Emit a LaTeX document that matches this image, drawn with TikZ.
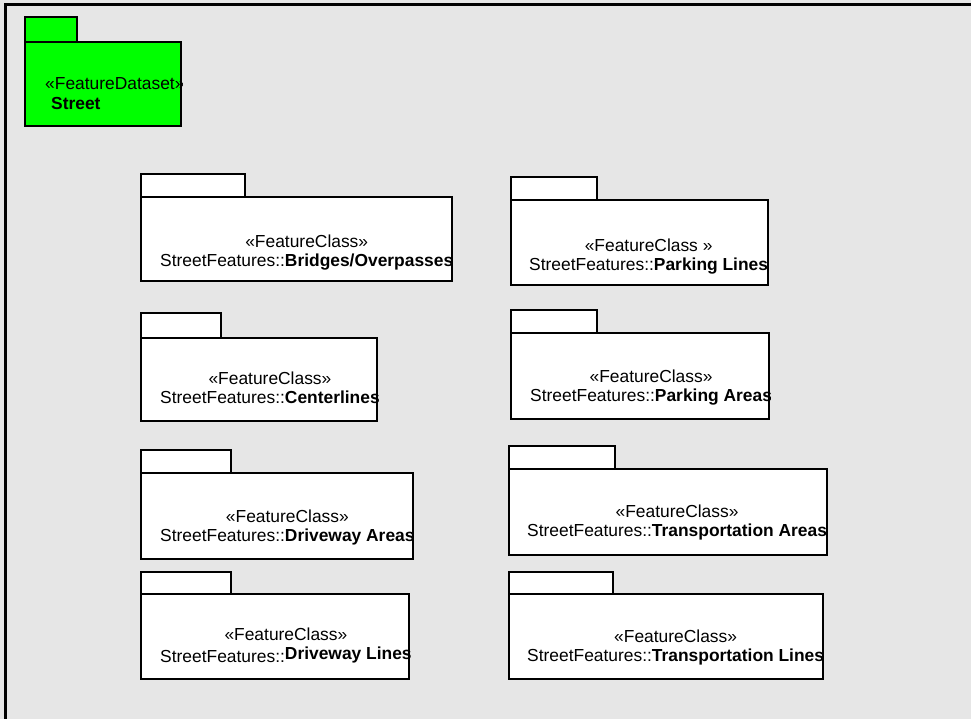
\documentclass[tikz,border=0pt]{standalone}
\usepackage{fontspec}
\setmainfont{Liberation Sans}
\usetikzlibrary{fit}
\definecolor{DiagramGray}{HTML}{E6E6E6}
\definecolor{DatasetGreen}{HTML}{00FF00}

\begin{document}
\begin{tikzpicture}[
    x=1pt, y=-1pt,
    every node/.style={font=\fontsize{17.4}{19.5}\selectfont},
    pkg/.style={rectangle, draw=black, line width=2pt, fill=white, inner sep=0pt, fit={#1}},
    dataset/.style={pkg={#1}, fill=DatasetGreen},
    pkgtext/.style={anchor=west, inner sep=0pt, align=center}
  ]
    \useasboundingbox (0,0) rectangle (971,719);
    \fill[DiagramGray] (0,0) rectangle (971,719);
    \draw[line width=2.5pt] (5.3,719) -- (5.3,4.7) -- (971,4.7);

    % feature dataset
    \node[dataset={(25,17) (77,42)}] (streettab) {};
    \node[dataset={(25,42) (181,126)}] (street) {};
    \begin{scope}
      \clip (street.north west) rectangle (street.south east);
      \node[pkgtext, align=left] (streettxt) at (45,95.85) {\strut«FeatureDataset»\\\strut\hspace*{6pt}\textbf{Street}};
    \end{scope}

    % left column
    \node[pkg={(141,174) (245,197)}] (bridgestab) {};
    \node[pkg={(141,197) (452,281)}] (bridges) {};
    \begin{scope}
      \clip (bridges.north west) rectangle (bridges.south east);
      \node[pkgtext] (bridgestxt) at (160,252.85) {\strut«FeatureClass»\\\strut StreetFeatures::\textbf{Bridges/Overpasses}};
    \end{scope}

    \node[pkg={(141,313) (221,338)}] (centertab) {};
    \node[pkg={(141,338) (377,421)}] (center) {};
    \begin{scope}
      \clip (center.north west) rectangle (center.south east);
      \node[pkgtext] (centertxt) at (160,389.85) {\strut«FeatureClass»\\\strut StreetFeatures::\textbf{Centerlines}};
    \end{scope}

    \node[pkg={(141,450) (231,473)}] (drvareastab) {};
    \node[pkg={(141,473) (413,559)}] (drvareas) {};
    \begin{scope}
      \clip (drvareas.north west) rectangle (drvareas.south east);
      \node[pkgtext] (drvareastxt) at (160,527.85) {\strut«FeatureClass»\\\strut StreetFeatures::\textbf{Driveway Areas}};
    \end{scope}

    \node[pkg={(141,572) (231,594)}] (drvlinestab) {};
    \node[pkg={(141,594) (409,679)}] (drvlines) {};
    \begin{scope}
      \clip (drvlines.north west) rectangle (drvlines.south east);
      \node[pkgtext] (drvlinestxt) at (160,647.85) {\strut«FeatureClass»\\\strut StreetFeatures::\raisebox{3pt}{\textbf{Driveway Lines}}};
    \end{scope}

    % right column
    \node[pkg={(511,177) (597,200)}] (parklinestab) {};
    \node[pkg={(511,200) (768,285)}] (parklines) {};
    \begin{scope}
      \clip (parklines.north west) rectangle (parklines.south east);
      \node[pkgtext] (parklinestxt) at (529,256.85) {\strut«FeatureClass »\\\strut StreetFeatures::\textbf{Parking Lines}};
    \end{scope}

    \node[pkg={(511,310) (597,333)}] (parkareastab) {};
    \node[pkg={(511,333) (769,419)}] (parkareas) {};
    \begin{scope}
      \clip (parkareas.north west) rectangle (parkareas.south east);
      \node[pkgtext] (parkareastxt) at (530,387.85) {\strut«FeatureClass»\\\strut StreetFeatures::\textbf{Parking Areas}};
    \end{scope}

    \node[pkg={(509,446) (615,469)}] (trnareastab) {};
    \node[pkg={(509,469) (827,555)}] (trnareas) {};
    \begin{scope}
      \clip (trnareas.north west) rectangle (trnareas.south east);
      \node[pkgtext] (trnareastxt) at (527,522.85) {\strut«FeatureClass»\\\strut StreetFeatures::\textbf{Transportation Areas}};
    \end{scope}

    \node[pkg={(509,572) (613,594)}] (trnlinestab) {};
    \node[pkg={(509,594) (823,679)}] (trnlines) {};
    \begin{scope}
      \clip (trnlines.north west) rectangle (trnlines.south east);
      \node[pkgtext] (trnlinestxt) at (527,647.85) {\strut«FeatureClass»\\\strut StreetFeatures::\textbf{Transportation Lines}};
    \end{scope}
  \end{tikzpicture}
\end{document}
